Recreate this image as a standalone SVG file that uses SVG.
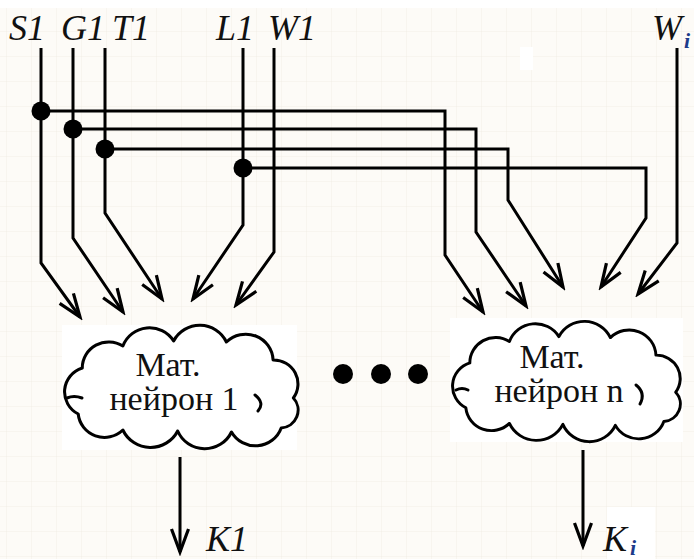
<svg xmlns="http://www.w3.org/2000/svg" width="694" height="559" viewBox="0 0 694 559">
  <style>
    .wire { fill: none; stroke: #000; stroke-width: 3; stroke-linejoin: miter; }
    .arrow { marker-end: url(#vhead); }
    .cloud { fill: #fff; stroke: #000; stroke-width: 3; stroke-linejoin: round; }
    .curl { fill: none; stroke: #000; stroke-width: 3; stroke-linecap: round; }
    .label { font-family: "Liberation Serif", "DejaVu Serif", serif; font-style: italic; font-size: 36px; fill: #111; }
    .sub { font-family: "Liberation Serif", "DejaVu Serif", serif; font-style: italic; font-weight: bold; font-size: 22px; fill: #1d3b8a; }
    .ntext { font-family: "Liberation Serif", "DejaVu Serif", serif; font-size: 34px; fill: #111; text-anchor: middle; }
  </style>
  <defs>
    <pattern id="grid" width="25" height="25" patternUnits="userSpaceOnUse" x="7" y="7">
      <path d="M25,0 V25 M0,25 H25" fill="none" stroke="#f2eee6" stroke-width="1"/>
    </pattern>
    <marker id="vhead" markerUnits="userSpaceOnUse" viewBox="-30 -14 34 28" markerWidth="34" markerHeight="28" refX="0" refY="0" orient="auto">
      <path d="M-23,-8.5 L0,0 L-23,8.5" fill="none" stroke="#000" stroke-width="3.2"/>
    </marker>
    <path id="cloudShape" d="M14,88 A25,25 0 0 1 18,42 A26,26 0 0 1 58,20 A28,28 0 0 1 108,15 A29,29 0 0 1 160,16 A27,27 0 0 1 206,34 A24,24 0 0 1 226,72 A18,18 0 0 1 214,102 A27,27 0 0 1 165,106 A29,29 0 0 1 112,105 A30,30 0 0 1 58,104 A26,26 0 0 1 14,88 Z"/>
  </defs>

  <!-- paper -->
  <rect x="0" y="0" width="694" height="559" fill="#fdfbf7"/>
  <rect x="0" y="8" width="694" height="551" fill="url(#grid)"/>
  <rect x="0" y="0" width="694" height="8" fill="#fff"/>
  <rect x="520" y="47" width="13" height="23" fill="#fff"/>
  <rect x="607" y="507" width="48" height="52" fill="#fff"/>

  <!-- input labels -->
  <g id="inputs">
    <text class="label" x="9" y="40">S1</text>
    <text class="label" x="61" y="40">G1</text>
    <text class="label" x="112" y="40">T1</text>
    <text class="label" x="216" y="40">L1</text>
    <text class="label" x="268" y="40">W1</text>
    <text class="label" x="652" y="40">W</text>
    <text class="sub" x="684" y="48">i</text>
  </g>

  <!-- wiring -->
  <g id="connectors">
    <path class="wire arrow" d="M41,48 V263 L80,317"/>
    <path class="wire arrow" d="M73,48 V238 L123,312"/>
    <path class="wire arrow" d="M105,48 V213 L162,299"/>
    <path class="wire arrow" d="M243,48 V225 L193,299"/>
    <path class="wire arrow" d="M274,48 V252 L236,305"/>
    <path class="wire arrow" d="M41,111 H445 V255 L483,312"/>
    <path class="wire arrow" d="M73,129 H476 V232 L526,306"/>
    <path class="wire arrow" d="M105,149 H508 V200 L563,287"/>
    <path class="wire arrow" d="M243,168 H646 V218 L601,287"/>
    <path class="wire arrow" d="M677,48 V243 L638,294"/>
    <path class="wire arrow" d="M180,457 V552"/>
    <path class="wire arrow" d="M583,450 V546"/>
    <circle cx="41" cy="111" r="9.5"/>
    <circle cx="73" cy="129" r="9.5"/>
    <circle cx="105" cy="149" r="9.5"/>
    <circle cx="243" cy="168" r="9.5"/>
  </g>

  <!-- neuron 1 -->
  <g id="neuron1">
    <rect x="62" y="325" width="235" height="125" fill="#fff"/>
    <use href="#cloudShape" class="cloud" transform="translate(64,326) scale(1.015,1)"/>
    <path class="curl" d="M67,398 Q74,395 82,398"/>
    <path class="curl" d="M255,395 Q265,403 258,411"/>
    <text class="ntext" x="168" y="376">Мат.</text>
    <text class="ntext" x="174" y="410">нейрон 1</text>
  </g>

  <!-- ellipsis between neurons -->
  <g id="ellipsis">
    <circle cx="343" cy="374" r="10"/>
    <circle cx="381" cy="374" r="10"/>
    <circle cx="418" cy="374" r="10"/>
  </g>

  <!-- neuron n -->
  <g id="neuronN">
    <rect x="450" y="318" width="233" height="124" fill="#fff"/>
    <use href="#cloudShape" class="cloud" transform="translate(452,322) scale(0.99,0.975)"/>
    <path class="curl" d="M456,390 Q462,387 468,390"/>
    <path class="curl" d="M636,385 Q646,393 640,404"/>
    <text class="ntext" x="552" y="368">Мат.</text>
    <text class="ntext" x="559" y="402">нейрон n</text>
  </g>

  <!-- outputs -->
  <g id="outputs">
    <text class="label" x="206" y="551">K1</text>
    <text class="label" x="603" y="551">K</text>
    <text class="sub" x="630" y="555">i</text>
  </g>
</svg>
